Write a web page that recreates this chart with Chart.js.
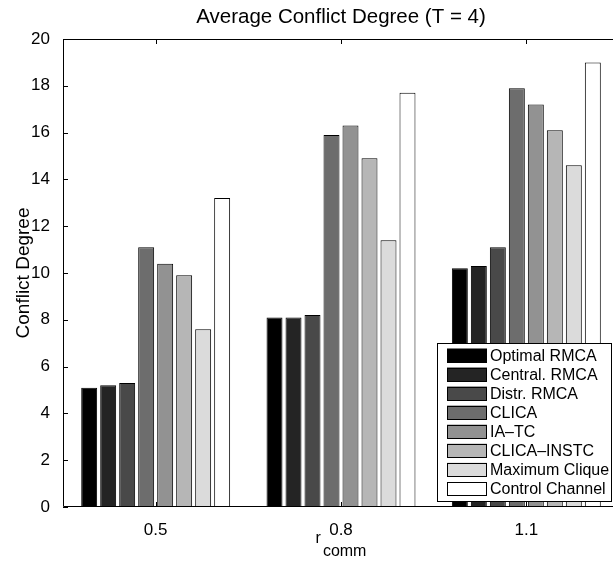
<!DOCTYPE html>
<html>
<head>
<meta charset="utf-8">
<script src="https://cdn.jsdelivr.net/npm/chart.js@4.4.1/dist/chart.umd.min.js"></script>
<style>
  html, body { margin: 0; padding: 0; overflow: hidden; background: #fff; }
  canvas { display: block; }
</style>
</head>
<body>
<canvas id="chart" width="620" height="561"></canvas>
<script>
// ── Data ──────────────────────────────────────────────────────────────
const categories = ['0.5', '0.8', '1.1'];           // r_comm
const seriesNames = ['Optimal RMCA', 'Central. RMCA', 'Distr. RMCA', 'CLICA',
                     'IA\u2013TC', 'CLICA\u2013INSTC', 'Maximum Clique', 'Control Channel'];
const optimalRmca    = [5.1, 8.1, 10.2];
const centralRmca    = [5.2, 8.1, 10.3];
const distrRmca      = [5.3, 8.2, 11.1];
const clica          = [11.1, 15.9, 17.9];
const iaTc           = [10.4, 16.3, 17.2];
const clicaInstc     = [9.9, 14.9, 16.1];
const maximumClique  = [7.6, 11.4, 14.6];
const controlChannel = [13.2, 17.7, 19.0];
const yMin = 0, yMax = 20, yStep = 2;

// MATLAB gray colormap, 8 levels
const grays = ['#000000', '#242424', '#494949', '#6d6d6d', '#929292', '#b6b6b6', '#dbdbdb', '#ffffff'];
const seriesValues = [optimalRmca, centralRmca, distrRmca, clica, iaTc, clicaInstc, maximumClique, controlChannel];

const FONT = "'Liberation Sans', Arial, Helvetica, sans-serif";
Chart.defaults.font.family = FONT;
Chart.defaults.color = '#000';

// Box around the axes + inward tick marks (MATLAB style)
const framePlugin = {
  id: 'frame',
  afterDatasetsDraw(chart) {
    const { ctx, chartArea: a, scales: { x, y } } = chart;
    const tl = 5;
    ctx.save();
    ctx.strokeStyle = '#000';
    ctx.lineWidth = 1;
    ctx.beginPath();
    ctx.rect(a.left + 0.5, a.top + 0.5, a.right - a.left - 1, a.bottom - a.top - 1);
    y.ticks.forEach(t => {
      const py = Math.round(y.getPixelForValue(t.value)) + 0.5;
      ctx.moveTo(a.left, py); ctx.lineTo(a.left + tl, py);
      ctx.moveTo(a.right, py); ctx.lineTo(a.right - tl, py);
    });
    x.ticks.forEach((t, i) => {
      const px = Math.round(x.getPixelForValue(i)) + 0.5;
      ctx.moveTo(px, a.bottom); ctx.lineTo(px, a.bottom - tl);
      ctx.moveTo(px, a.top); ctx.lineTo(px, a.top + tl);
    });
    ctx.stroke();
    ctx.restore();
  }
};

// Legend box in lower right corner of the axes
const legendPlugin = {
  id: 'boxLegend',
  afterDraw(chart) {
    const { ctx, chartArea: a } = chart;
    const rowH = 19, swW = 40, swH = 14;
    const n = chart.data.datasets.length;
    const boxL = 437, boxR = a.right - 7, boxB = a.bottom - 5;
    const boxT = boxB - (n * rowH + 7);
    ctx.save();
    ctx.fillStyle = '#fff';
    ctx.fillRect(boxL, boxT, boxR - boxL, boxB - boxT);
    ctx.strokeStyle = '#000';
    ctx.lineWidth = 1;
    ctx.strokeRect(boxL + 0.5, boxT + 0.5, boxR - boxL - 1, boxB - boxT - 1);
    ctx.font = '16px ' + FONT;
    ctx.textBaseline = 'middle';
    ctx.textAlign = 'left';
    chart.data.datasets.forEach((ds, i) => {
      const cy = boxT + 12.5 + i * rowH;
      ctx.fillStyle = ds.backgroundColor;
      ctx.fillRect(boxL + 10, cy - swH / 2, swW, swH);
      ctx.strokeStyle = '#000';
      ctx.strokeRect(boxL + 10.5, Math.round(cy - swH / 2) + 0.5, swW - 1, swH - 1);
      ctx.fillStyle = '#000';
      ctx.fillText(ds.label, boxL + 53, cy + 1);
    });
    ctx.restore();
  }
};

// x-axis title with subscript: r_comm
const xTitlePlugin = {
  id: 'xTitle',
  afterDraw(chart) {
    const { ctx, chartArea: a } = chart;
    const cx = (a.left + a.right) / 2;
    ctx.save();
    ctx.fillStyle = '#000';
    ctx.textBaseline = 'alphabetic';
    ctx.textAlign = 'left';
    ctx.font = '16px ' + FONT;
    const wr = ctx.measureText('r').width;
    const wc = ctx.measureText('comm').width;
    const x0 = cx - (wr + wc + 2) / 2;
    ctx.fillText('r', x0, a.bottom + 36);
    ctx.fillText('comm', x0 + wr + 2, a.bottom + 49);
    ctx.restore();
  }
};

// centre the title over the axes, like MATLAB does
const titleCenterPlugin = {
  id: 'titleCenter',
  afterLayout(chart) {
    const t = chart.titleBlock;
    if (!t) return;
    const a = chart.chartArea;
    const w = t.right - t.left;
    t.left = (a.left + a.right) / 2 - w / 2;
    t.right = t.left + w;
  }
};

new Chart(document.getElementById('chart'), {
  type: 'bar',
  data: {
    labels: categories,
    datasets: seriesNames.map((name, i) => ({
      label: name,
      data: seriesValues[i],
      backgroundColor: grays[i],
      borderColor: '#000',
      borderWidth: 1,
      borderSkipped: false,
      categoryPercentage: 0.82,
      barPercentage: 0.84
    }))
  },
  plugins: [framePlugin, legendPlugin, xTitlePlugin, titleCenterPlugin],
  options: {
    responsive: false,
    animation: false,
    layout: { padding: { left: 0, right: 1, top: 0, bottom: 0 } },
    plugins: {
      legend: { display: false },
      tooltip: { enabled: false },
      title: {
        display: true,
        text: 'Average Conflict Degree (T = 4)',
        font: { size: 20.5, weight: 'normal' },
        color: '#000',
        padding: { top: 5.5, bottom: 8.9 }
      }
    },
    scales: {
      x: {
        grid: { display: false },
        border: { display: false },
        ticks: { font: { size: 17 }, padding: 5, color: '#000' },
        afterFit: s => { s.height = 54; }
      },
      y: {
        min: yMin,
        max: yMax,
        grid: { display: false },
        border: { display: false },
        ticks: { stepSize: yStep, font: { size: 17 }, padding: 5, color: '#000' },
        title: {
          display: true,
          text: 'Conflict Degree',
          font: { size: 19 },
          color: '#000',
          padding: { top: 12, bottom: 0 }
        },
        afterFit: s => { s.width = 63; }
      }
    }
  }
});
</script>
</body>
</html>
